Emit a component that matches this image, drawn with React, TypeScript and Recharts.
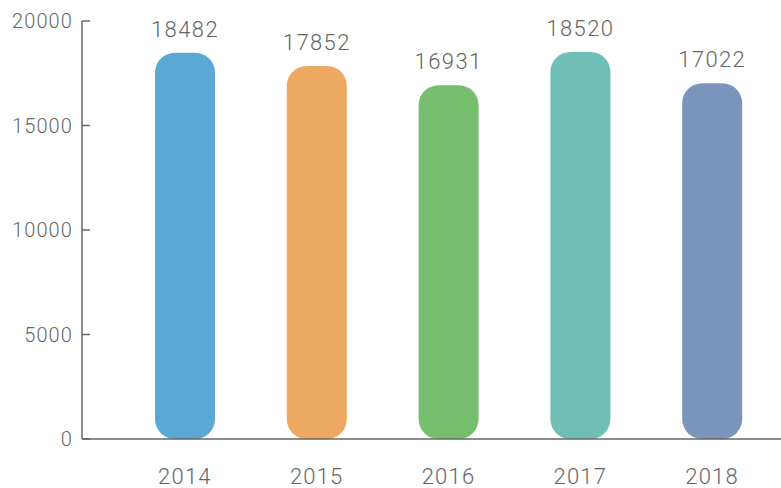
import React from "react";
import { BarChart, Bar, XAxis, YAxis, Cell, LabelList } from "recharts";

const years = ["2014", "2015", "2016", "2017", "2018"];
const values = [18482, 17852, 16931, 18520, 17022];
const colors = ["#5AA8D4", "#EDA861", "#74BE6E", "#6FBFB6", "#7B94BC"];
const yTicks = [0, 5000, 10000, 15000, 20000];

const data = years.map((y, i) => ({ year: y, value: values[i] }));

const FONT = "Roboto, 'DejaVu Sans', sans-serif";
const TEXT = "#666666";

const YTick = (props: any) => {
  const { x, y, payload } = props;
  return (
    <g>
      <line x1={x} y1={y} x2={x + 8} y2={y} stroke="#666" strokeWidth={1.5} />
      <text
        x={x - 9}
        y={y}
        dy={7}
        textAnchor="end"
        fill={TEXT}
        fontFamily={FONT}
        fontWeight={300}
        fontSize={20}
        letterSpacing={1.1}
      >
        {payload.value}
      </text>
    </g>
  );
};

const XTick = (props: any) => {
  const { x, y, payload } = props;
  return (
    <text
      x={x}
      y={y + 45}
      textAnchor="middle"
      fill={TEXT}
      fontFamily={FONT}
      fontWeight={300}
      fontSize={22}
      letterSpacing={1.2}
    >
      {payload.value}
    </text>
  );
};

const ValueLabel = (props: any) => {
  const { x, y, width, value } = props;
  return (
    <text
      x={x + width / 2}
      y={y - 16}
      textAnchor="middle"
      fill={TEXT}
      fontFamily={FONT}
      fontWeight={300}
      fontSize={22}
      letterSpacing={1.4}
    >
      {value}
    </text>
  );
};

export default function App() {
  return (
    <div style={{ position: "absolute", left: 0, top: 0, width: 781, height: 488, background: "#fff" }}>
      <BarChart
        width={781}
        height={488}
        data={data}
        margin={{ top: 21, right: 0, bottom: 0, left: 0 }}
      >
        <XAxis
          dataKey="year"
          height={49}
          tickLine={false}
          tickSize={0}
          tickMargin={0}
          axisLine={{ stroke: "#666", strokeWidth: 1.5 }}
          padding={{ left: 37, right: 3 }}
          tick={<XTick />}
          interval={0}
        />
        <YAxis
          width={82}
          domain={[0, 20000]}
          ticks={yTicks}
          tickLine={false}
          tickSize={0}
          tickMargin={0}
          axisLine={{ stroke: "#666", strokeWidth: 1.5 }}
          tick={<YTick />}
          interval={0}
        />
        <Bar dataKey="value" barSize={60} radius={[20, 20, 20, 20]} isAnimationActive={false}>
          {data.map((d, i) => (
            <Cell key={d.year} fill={colors[i]} />
          ))}
          <LabelList dataKey="value" content={<ValueLabel />} />
        </Bar>
      </BarChart>
    </div>
  );
}
